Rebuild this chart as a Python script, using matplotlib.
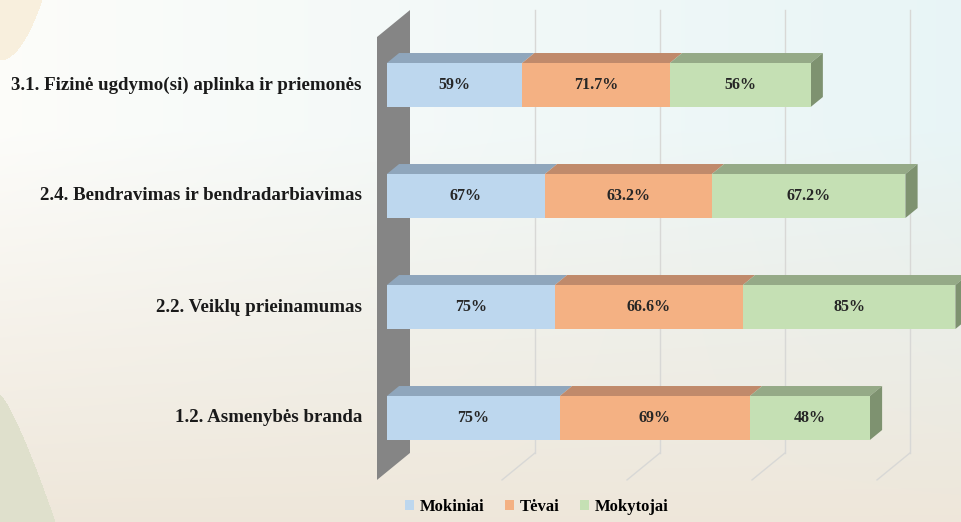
import numpy as np
import matplotlib
matplotlib.use("Agg")
from matplotlib import pyplot as plt
from matplotlib.patches import Polygon, Patch

# data, bottom row first
categories = ['1.2. Asmenybės branda', '2.2. Veiklų prieinamumas',
              '2.4. Bendravimas ir bendradarbiavimas',
              '3.1. Fizinė ugdymo(si) aplinka ir priemonės']
series = ['Mokiniai', 'Tėvai', 'Mokytojai']
# bar lengths as drawn
mokiniai = [69.2, 67.2, 63.2, 54.1]
tevai = [76.0, 75.2, 66.8, 59.1]
mokytojai = [48.0, 85.0, 77.4, 56.3]
# label texts shown on the bars
lab_mokiniai = ['75%', '75%', '67%', '59%']
lab_tevai = ['69%', '66.6%', '63.2%', '71.7%']
lab_mokytojai = ['48%', '85%', '67.2%', '56%']

front = ['#BDD7EE', '#F4B183', '#C5E0B4']
top = ['#8FA6BC', '#C08A6B', '#95AA87']
side_col = '#7E9270'
wall_col = '#858585'
grid_col = '#d8d8d6'

serif = 'Liberation Serif'

W, H = 962, 522
fig = plt.figure(figsize=(W / 100, H / 100), dpi=100)
ax = fig.add_axes([0, 0, 1, 1])
px_x = 2.5    # px per value unit
px_y = 111.0  # px per category
x0px, y0px = 377, 426.1
xmin, xmax = -x0px / px_x, (W - x0px) / px_x
ymin, ymax = (y0px - H) / px_y, y0px / px_y
ax.set_xlim(xmin, xmax)
ax.set_ylim(ymin, ymax)
ax.axis('off')

# depth projection (fraction of depth -> offset)
DX = 33 / px_x
DY = 27 / px_y

# background
ny, nx = 522, 962
gx = np.linspace(0, 1, nx)[None, :]
gy = np.linspace(0, 1, ny)[:, None]  # 0 = top
top_c = np.array([0.99, 0.99, 0.98]) * (1 - gx[..., None]) + np.array([0.91, 0.96, 0.965]) * gx[..., None]
bot_c = np.array([0.935, 0.905, 0.855])
t = np.clip((gy - 0.25) / 0.75, 0, 1)[..., None]
bg = top_c * (1 - t) + bot_c * t
bg = np.broadcast_to(bg, (ny, nx, 3)).copy()
X = gx * W
Y = gy * H
bg[(X < 42 * np.sqrt(np.clip(1 - Y / 60, 0, 1)))] = [0.975, 0.94, 0.87]
bg[(Y > 395) & (X < 55 * ((Y - 395) / 127) ** 0.8)] = [0.875, 0.88, 0.80]
ax.imshow(bg, extent=[xmin, xmax, ymin, ymax], aspect='auto', zorder=0)

# wall
wy0, wy1 = -0.485, 3.505
ax.add_patch(Polygon([(0, wy0), (0, wy1), (DX, wy1 + DY), (DX, wy0 + DY)],
                     closed=True, fc=wall_col, ec='none', zorder=1))

# gridlines on back wall and floor
for g in [50, 100, 150, 200]:
    ax.plot([g + DX, g + DX], [wy0 + DY, wy1 + DY], color=grid_col, lw=1, zorder=1)
    ax.plot([g + DX, g], [wy0 + DY, wy0], color=grid_col, lw=1, zorder=1)

# bars
d0, d1 = 0.30, 0.67
bh = 44 / px_y
vals = [mokiniai, tevai, mokytojai]
labs = [lab_mokiniai, lab_tevai, lab_mokytojai]
for i in range(len(categories)):
    yc = i + d0 * DY
    yb, yt = yc - bh / 2, yc + bh / 2
    left = d0 * DX
    dd = (d1 - d0)
    for s in range(3):
        w = vals[s][i]
        ax.add_patch(Polygon([(left, yt), (left + w, yt), (left + w + dd * DX, yt + dd * DY),
                              (left + dd * DX, yt + dd * DY)], closed=True,
                             fc=top[s], ec='none', zorder=3))
        ax.barh(yc, w, height=bh, left=left, color=front[s], edgecolor='none', zorder=4)
        ax.text(left + w / 2, yc, labs[s][i], ha='center', va='center', fontsize=11.5,
                fontweight='bold', family=serif, color='#262626', zorder=5)
        left += w
    ax.add_patch(Polygon([(left, yb), (left, yt), (left + dd * DX, yt + dd * DY),
                          (left + dd * DX, yb + dd * DY)], closed=True,
                         fc=side_col, ec='none', zorder=3))
    ax.text(-6, yc, categories[i], ha='right', va='center', fontsize=13.6,
            fontweight='bold', family=serif, color='#1a1a1a', zorder=5)

handles = [Patch(fc=front[s], ec='none', label=series[s]) for s in range(3)]
fig.legend(handles=handles, loc='lower center', bbox_to_anchor=(0.558, -0.016), ncol=3,
           frameon=False, prop={'family': serif, 'weight': 'bold', 'size': 12},
           handlelength=0.55, handleheight=0.55, handletextpad=0.35, columnspacing=1.2)

fig.savefig('out.png', dpi=100)
